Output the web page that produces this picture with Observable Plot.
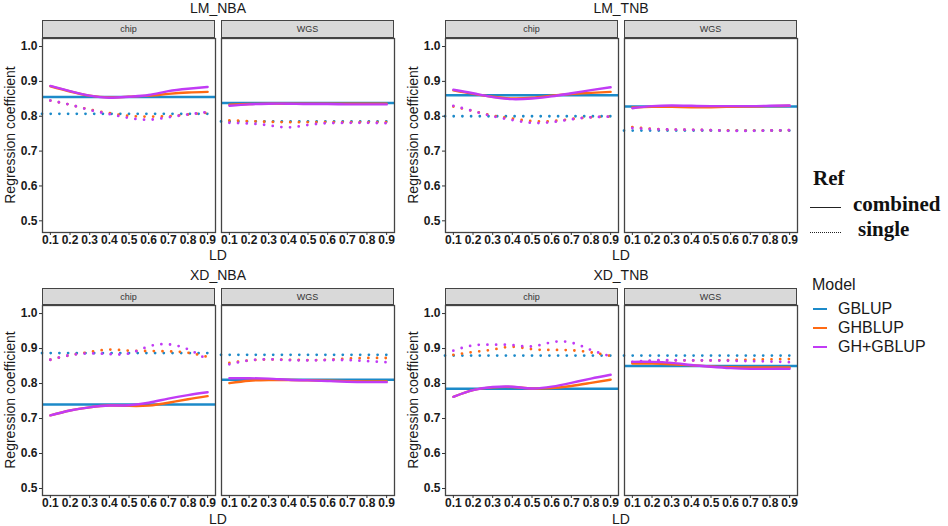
<!DOCTYPE html>
<html><head><meta charset="utf-8">
<script src="https://cdn.jsdelivr.net/npm/d3@7"></script>
<script src="https://cdn.jsdelivr.net/npm/@observablehq/plot@0.6"></script>
<style>
body{margin:0;background:#fff;}
#root{position:relative;width:948px;height:526px;overflow:hidden;font-family:"Liberation Sans",Arial,sans-serif;color:#1a1a1a;background:#fff;}
.abs{position:absolute;white-space:nowrap;}
.title{font-size:14px;transform:translate(-50%,-50%);}
.strip{position:absolute;box-sizing:border-box;background:#d9d9d9;border:1px solid #444;font-size:9px;color:#333;display:flex;align-items:center;justify-content:center;}
.ylab{font-size:14px;transform:translate(-50%,-50%) rotate(-90deg);}
.ref{font-family:"Liberation Serif","Times New Roman",serif;font-weight:bold;font-size:21px;color:#111;transform:translateY(-50%);}
.mod{font-size:16px;color:#1a1a1a;transform:translateY(-50%);}
</style></head><body><div id="root"></div>
<script>
// ---- categories ----
const traits = ["LM_NBA", "LM_TNB", "XD_NBA", "XD_TNB"];
const panels = ["chip", "WGS"];
const models = ["GBLUP", "GHBLUP", "GH+GBLUP"];
const refs = ["combined", "single"];
const ld = [0.1, 0.2, 0.3, 0.4, 0.5, 0.6, 0.7, 0.8, 0.9];
const yTicks = [0.5, 0.6, 0.7, 0.8, 0.9, 1.0];
const colors = ["#1c8ac9", "#ff6a13", "#c13bf5"];

// ---- GBLUP (horizontal reference), per trait: [chip, WGS] ----
const GBLUP_combined = [[0.855, 0.838], [0.860, 0.828], [0.740, 0.811], [0.785, 0.850]];
const GBLUP_single   = [[0.807, 0.785], [0.800, 0.759], [0.887, 0.882], [0.880, 0.880]];

// ---- GHBLUP and GH+GBLUP over LD: [GHBLUP, GH+GBLUP] ----
const LM_NBA_chip_combined = [
  [0.886, 0.871, 0.859, 0.854, 0.856, 0.859, 0.864, 0.868, 0.870],
  [0.887, 0.872, 0.859, 0.853, 0.856, 0.861, 0.872, 0.879, 0.884]];
const LM_NBA_chip_single = [
  [0.845, 0.833, 0.819, 0.809, 0.801, 0.799, 0.800, 0.805, 0.810],
  [0.845, 0.833, 0.818, 0.806, 0.795, 0.790, 0.797, 0.805, 0.812]];
const LM_NBA_WGS_combined = [
  [0.833, 0.835, 0.836, 0.836, 0.836, 0.836, 0.836, 0.836, 0.836],
  [0.830, 0.834, 0.836, 0.836, 0.835, 0.835, 0.834, 0.834, 0.834]];
const LM_NBA_WGS_single = [
  [0.788, 0.786, 0.784, 0.783, 0.783, 0.783, 0.783, 0.783, 0.783],
  [0.781, 0.779, 0.774, 0.768, 0.775, 0.780, 0.781, 0.781, 0.780]];

const LM_TNB_chip_combined = [
  [0.874, 0.864, 0.856, 0.851, 0.853, 0.859, 0.864, 0.867, 0.870],
  [0.876, 0.866, 0.855, 0.849, 0.851, 0.857, 0.866, 0.875, 0.883]];
const LM_TNB_chip_single = [
  [0.828, 0.815, 0.802, 0.793, 0.786, 0.786, 0.792, 0.797, 0.799],
  [0.830, 0.815, 0.800, 0.789, 0.781, 0.783, 0.791, 0.797, 0.799]];
const LM_TNB_WGS_combined = [
  [0.825, 0.827, 0.827, 0.826, 0.826, 0.827, 0.828, 0.829, 0.830],
  [0.823, 0.829, 0.831, 0.830, 0.829, 0.829, 0.829, 0.830, 0.831]];
const LM_TNB_WGS_single = [
  [0.769, 0.764, 0.762, 0.761, 0.760, 0.759, 0.759, 0.759, 0.760],
  [0.766, 0.763, 0.762, 0.761, 0.760, 0.758, 0.758, 0.759, 0.760]];

const XD_NBA_chip_combined = [
  [0.709, 0.723, 0.732, 0.737, 0.736, 0.737, 0.745, 0.755, 0.764],
  [0.709, 0.723, 0.732, 0.737, 0.738, 0.745, 0.757, 0.767, 0.775]];
const XD_NBA_chip_single = [
  [0.868, 0.881, 0.890, 0.897, 0.894, 0.893, 0.892, 0.888, 0.876],
  [0.868, 0.881, 0.886, 0.884, 0.886, 0.906, 0.912, 0.898, 0.868]];
const XD_NBA_WGS_combined = [
  [0.801, 0.808, 0.810, 0.810, 0.809, 0.808, 0.807, 0.806, 0.806],
  [0.815, 0.815, 0.814, 0.811, 0.809, 0.807, 0.805, 0.804, 0.804]];
const XD_NBA_WGS_single = [
  [0.859, 0.866, 0.869, 0.868, 0.867, 0.868, 0.871, 0.873, 0.873],
  [0.855, 0.866, 0.869, 0.867, 0.866, 0.867, 0.867, 0.864, 0.861]];

const XD_TNB_chip_combined = [
  [0.762, 0.781, 0.789, 0.790, 0.786, 0.787, 0.793, 0.802, 0.811],
  [0.762, 0.781, 0.790, 0.791, 0.786, 0.791, 0.802, 0.814, 0.825]];
const XD_TNB_chip_single = [
  [0.882, 0.890, 0.897, 0.905, 0.898, 0.896, 0.895, 0.889, 0.879],
  [0.894, 0.909, 0.911, 0.910, 0.906, 0.918, 0.917, 0.896, 0.878]];
const XD_TNB_WGS_combined = [
  [0.857, 0.857, 0.855, 0.852, 0.849, 0.847, 0.846, 0.846, 0.846],
  [0.862, 0.862, 0.859, 0.853, 0.848, 0.844, 0.842, 0.842, 0.842]];
const XD_TNB_WGS_single = [
  [0.860, 0.864, 0.866, 0.866, 0.866, 0.867, 0.868, 0.869, 0.870],
  [0.862, 0.866, 0.867, 0.866, 0.866, 0.865, 0.864, 0.863, 0.861]];

const series = {
  LM_NBA: {chip: {combined: LM_NBA_chip_combined, single: LM_NBA_chip_single}, WGS: {combined: LM_NBA_WGS_combined, single: LM_NBA_WGS_single}},
  LM_TNB: {chip: {combined: LM_TNB_chip_combined, single: LM_TNB_chip_single}, WGS: {combined: LM_TNB_WGS_combined, single: LM_TNB_WGS_single}},
  XD_NBA: {chip: {combined: XD_NBA_chip_combined, single: XD_NBA_chip_single}, WGS: {combined: XD_NBA_WGS_combined, single: XD_NBA_WGS_single}},
  XD_TNB: {chip: {combined: XD_TNB_chip_combined, single: XD_TNB_chip_single}, WGS: {combined: XD_TNB_WGS_combined, single: XD_TNB_WGS_single}}
};

// ---- layout ----
const root = document.getElementById("root");
const colX = [0, 403];
const rowCfg = [
  {svgTop: 37, height: 215, yDom: [0.4665, 1.023], titleY: 8, stripTop: 20, stripH: 18, ldY: 255, panelMid: 135},
  {svgTop: 304, height: 211, yDom: [0.48, 1.023], titleY: 275, stripTop: 288, stripH: 17, ldY: 519, panelMid: 400}
];
function el(cls, text, left, top) {
  const d = document.createElement("div");
  d.className = cls; d.textContent = text;
  d.style.left = left + "px"; d.style.top = top + "px";
  root.appendChild(d); return d;
}

traits.forEach((trait, ti) => {
  const r = rowCfg[Math.floor(ti / 2)];
  const x0 = colX[ti % 2];
  const lineRows = [];
  const ruleRows = [];
  panels.forEach((p, pi) => {
    ruleRows.push({panel: p, ref: "combined", model: "GBLUP", value: GBLUP_combined[ti][pi]});
    ruleRows.push({panel: p, ref: "single", model: "GBLUP", value: GBLUP_single[ti][pi]});
    refs.forEach(ref => {
      series[trait][p][ref].forEach((vals, mi) => {
        vals.forEach((v, i) => lineRows.push({panel: p, ref, model: models[mi + 1], ld: ld[i], value: v}));
      });
    });
  });
  const dotted = {strokeDasharray: "0 8.7", strokeLinecap: "round", strokeWidth: 2.8};
  const chart = Plot.plot({
    width: 398, height: r.height,
    marginLeft: 42, marginRight: 4, marginTop: 1, marginBottom: 20,
    style: {fontFamily: "'Liberation Sans', Arial, sans-serif", fontSize: "12px", fontWeight: "bold", color: "#1a1a1a", background: "transparent", overflow: "visible"},
    fx: {domain: panels, paddingInner: 6 / 179, paddingOuter: 0, axis: null},
    x: {domain: [0.06, 0.94]},
    y: {domain: r.yDom},
    color: {domain: models, range: colors},
    marks: [
      Plot.ruleY(ruleRows.filter(d => d.ref === "single"), {y: "value", fx: "panel", stroke: "model", ...dotted}),
      Plot.line(lineRows.filter(d => d.ref === "single"), {x: "ld", y: "value", z: "model", stroke: "model", fx: "panel", curve: "natural", ...dotted}),
      Plot.ruleY(ruleRows.filter(d => d.ref === "combined"), {y: "value", fx: "panel", stroke: "model", strokeWidth: 2.4}),
      Plot.line(lineRows.filter(d => d.ref === "combined"), {x: "ld", y: "value", z: "model", stroke: "model", fx: "panel", curve: "natural", strokeWidth: 2.4}),
      Plot.frame({stroke: "#444", strokeWidth: 1.3}),
      Plot.axisX({ticks: ld, tickFormat: d3.format(".1f"), tickSize: 3, tickPadding: 0, label: null, stroke: "#333"}),
      Plot.axisY({ticks: yTicks, tickFormat: d3.format(".1f"), tickSize: 3, tickPadding: 2, label: null, stroke: "#333"})
    ]
  });
  chart.style.position = "absolute";
  chart.style.left = x0 + "px";
  chart.style.top = r.svgTop + "px";
  root.appendChild(chart);

  const fx = chart.scale("fx");
  const bw = fx.bandwidth;
  panels.forEach(p => {
    const s = el("strip", p, x0 + fx.apply(p), r.stripTop);
    s.style.width = bw + "px"; s.style.height = r.stripH + "px";
  });
  const cx = x0 + (fx.apply(panels[0]) + fx.apply(panels[1]) + bw) / 2;
  el("abs title", trait, cx, r.titleY);
  el("abs title", "LD", cx, r.ldY).style.fontSize = "14px";
  el("abs ylab", "Regression coefficient", x0 + 10, r.panelMid);
});

// ---- Ref legend ----
el("abs ref", "Ref", 813, 178);
el("abs ref", "combined", 853, 204);
el("abs ref", "single", 858, 229);
const solid = el("abs", "", 810, 207); solid.style.width = "31px"; solid.style.borderTop = "1.2px solid #222";
const dot = el("abs", "", 810, 232); dot.style.width = "31px"; dot.style.borderTop = "1.2px dotted #222";

// ---- Model legend ----
el("abs mod", "Model", 812, 285);
const keyY = [309, 328, 347];
models.forEach((m, i) => {
  const k = el("abs", "", 813, keyY[i] - 1); k.style.width = "14px"; k.style.borderTop = "2.2px solid " + colors[i];
  el("abs mod", m, 838, keyY[i]);
});
</script></body></html>
